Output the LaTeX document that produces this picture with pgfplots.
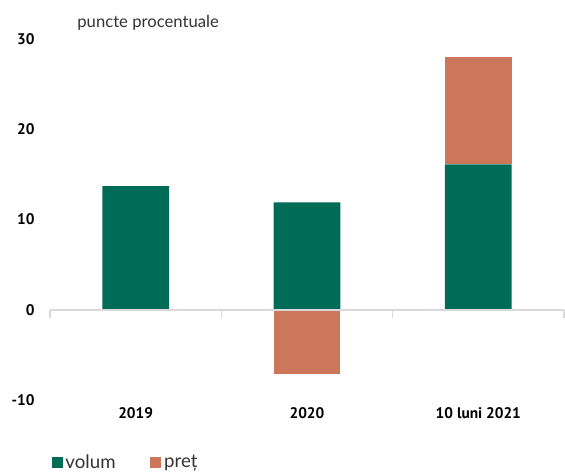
\documentclass[border=0pt]{standalone}
\usepackage{pgfplots}
\pgfplotsset{compat=1.18}
\usepackage{fontspec}
\setmainfont{Lato}
\newfontfamily\tickfont{PT Sans}
\definecolor{volum}{HTML}{006B56}
\definecolor{pret}{HTML}{CC775C}
\definecolor{axgray}{HTML}{D9D9D9}
\definecolor{txt}{HTML}{333333}
\begin{document}
\begin{tikzpicture}
\useasboundingbox (-37.5pt,-56.25pt) rectangle (386.25pt,300pt);
\pgfplotsset{base/.style={
  width=385.5pt, height=270.75pt, scale only axis,
  at={(0pt,0pt)}, anchor=south west,
  xmin=-0.5, xmax=2.5, ymin=-10, ymax=30,
  axis line style={draw=none},
  bar width=0.39,
  clip=false,
}}
\begin{axis}[base, ybar stacked,
  ytick={-10,0,10,20,30},
  xtick={0,1,2},
  xticklabels={2019,2020,10 luni 2021},
  major tick length=0pt,
  /pgf/number format/assume math mode=true,
  ticklabel style={font=\tickfont\bfseries\fontsize{11.5}{13}\selectfont, text=black},
  yticklabel style={xshift=-8pt},
  xticklabel style={yshift=-2pt},
  legend style={draw=none, fill=none, at={(0,0)}, anchor=west, yshift=-47pt, xshift=-2pt,
    legend columns=2, font=\fontsize{14}{16}\selectfont\color{txt},
    /tikz/every even column/.append style={column sep=24pt},
    nodes={inner sep=2pt}},
]
\addplot[fill=volum, draw=none,
  legend image code/.code={\fill[volum] (0pt,-4.2pt) rectangle (8.4pt,4.2pt);}]
  coordinates {(0,13.7) (1,11.9) (2,16.1)};
\addlegendentry{volum}
\addplot[fill=pret, draw=none,
  legend image code/.code={\fill[pret] (0pt,-4.2pt) rectangle (8.4pt,4.2pt);}]
  coordinates {(0,0) (1,0) (2,11.9)};
\addlegendentry{preț}
\node[anchor=base west, font=\fontsize{12.5}{14}\selectfont, text=txt]
  at (rel axis cs:0,1) [xshift=17pt, yshift=9pt] {puncte procentuale};
\end{axis}
\begin{axis}[base, ybar, bar shift=0pt, hide axis]
\addplot[fill=pret, draw=none] coordinates {(1,-7.1)};
\draw[axgray, line width=1.5pt] (axis cs:-0.5,0) -- (axis cs:2.5,0);
\draw[axgray, line width=1.2pt] (axis cs:-0.5,0) -- ([yshift=-6pt]axis cs:-0.5,0);
\draw[axgray, line width=1.2pt] (axis cs:0.5,0) -- ([yshift=-6pt]axis cs:0.5,0);
\draw[axgray, line width=1.2pt] (axis cs:1.5,0) -- ([yshift=-6pt]axis cs:1.5,0);
\draw[axgray, line width=1.2pt] (axis cs:2.5,0) -- ([yshift=-6pt]axis cs:2.5,0);
\end{axis}
\end{tikzpicture}
\end{document}
